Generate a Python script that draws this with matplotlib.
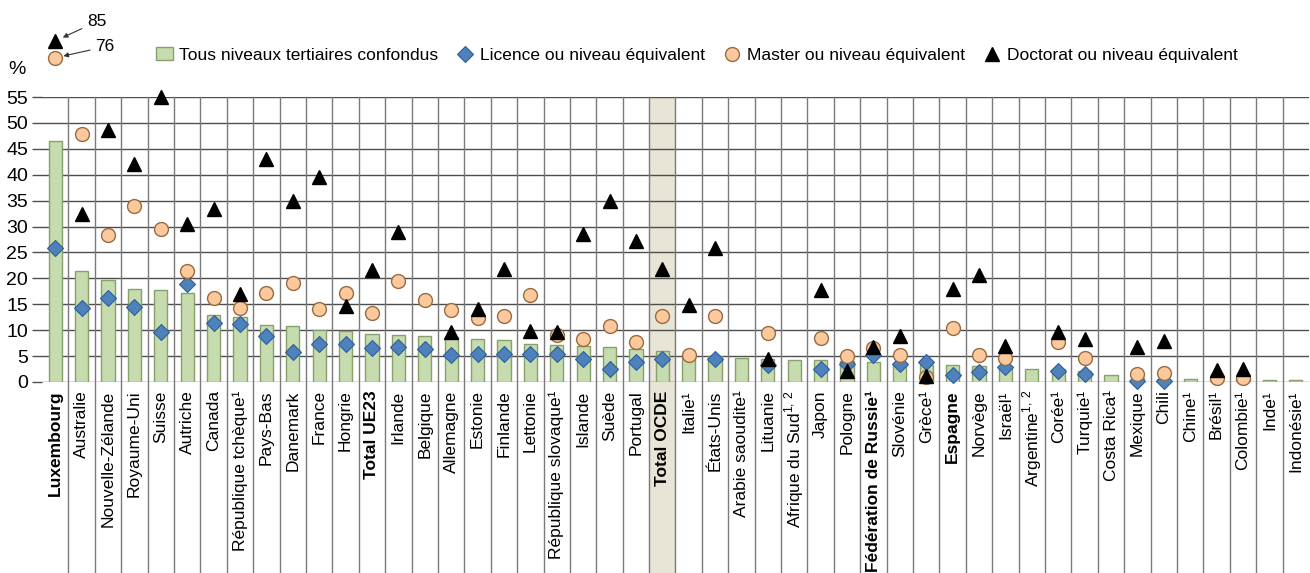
import numpy as np
import matplotlib.pyplot as plt
from matplotlib.patches import Rectangle
from matplotlib.transforms import blended_transform_factory

plt.rcParams['font.family'] = ['Liberation Sans', 'DejaVu Sans']
plt.rcParams['mathtext.fontset'] = 'custom'
plt.rcParams['mathtext.rm'] = 'Liberation Sans'

nan = np.nan

# Pays, triés selon la part tous niveaux tertiaires confondus
pays = [
    "Luxembourg", "Australie", "Nouvelle-Zélande", "Royaume-Uni", "Suisse",
    "Autriche", "Canada", "République tchèque¹", "Pays-Bas", "Danemark",
    "France", "Hongrie", "Total UE23", "Irlande", "Belgique", "Allemagne",
    "Estonie", "Finlande", "Lettonie", "République slovaque¹", "Islande",
    "Suède", "Portugal", "Total OCDE", "Italie¹", "États-Unis",
    "Arabie saoudite¹", "Lituanie", r"Afrique du Sud$^{\mathregular{1,\,2}}$",
    "Japon", "Pologne", "Fédération de Russie¹", "Slovénie", "Grèce¹",
    "Espagne", "Norvège", "Israël¹", r"Argentine$^{\mathregular{1,\,2}}$",
    "Corée¹", "Turquie¹", "Costa Rica¹", "Mexique", "Chili", "Chine¹",
    "Brésil¹", "Colombie¹", "Inde¹", "Indonésie¹",
]
pays_en_gras = ["Luxembourg", "Total UE23", "Total OCDE",
                "Fédération de Russie¹", "Espagne"]
pays_total = "Total OCDE"

tous_niveaux = [
    46.5, 21.5, 19.7, 18.0, 17.8, 17.2, 12.9, 12.6, 11.0, 10.9,
    10.1, 9.9, 9.2, 9.1, 8.9, 8.7, 8.3, 8.2, 7.4, 7.1,
    6.9, 6.8, 6.3, 6.0, 5.2, 5.0, 4.7, 4.5, 4.3, 4.2,
    4.0, 3.9, 3.6, 3.3, 3.2, 3.1, 3.0, 2.6, 2.5, 2.2,
    1.4, 0.8, 0.6, 0.5, 0.5, 0.5, 0.4, 0.3,
]
licence = [
    25.8, 14.3, 16.3, 14.4, 9.6, 18.9, 11.3, 11.1, 8.8, 5.8,
    7.4, 7.4, 6.6, 6.7, 6.3, 5.2, 5.5, 5.5, 5.5, 5.5,
    4.5, 2.5, 3.9, 4.5, nan, 4.5, nan, 3.3, nan, 2.6,
    3.5, 5.2, 3.4, 3.9, 1.3, 1.9, 2.8, nan, 2.1, 1.6,
    nan, 0.2, 0.2, nan, nan, nan, nan, nan,
]
master = [
    76, 47.8, 28.4, 34.0, 29.5, 21.5, 16.2, 14.2, 17.2, 19.1,
    14.1, 17.1, 13.4, 19.5, 15.8, 13.9, 12.4, 12.8, 16.8, 9.0,
    8.3, 10.9, 7.7, 12.7, 5.3, 12.8, nan, 9.4, nan, 8.4,
    5.0, 6.6, 5.2, 0.9, 10.4, 5.2, 4.6, nan, 7.7, 4.7,
    nan, 1.5, 1.8, nan, 0.8, 0.7, nan, nan,
]
doctorat = [
    85, 32.5, 48.7, 42.0, 55.0, 30.4, 33.3, 16.9, 43.0, 35.0,
    39.5, 14.7, 21.7, 28.9, nan, 9.6, 14.1, 21.9, 9.8, 9.7,
    28.6, 35.0, 27.2, 21.8, 14.8, 25.9, nan, 4.4, nan, 17.7,
    2.2, 6.8, 8.8, 1.2, 17.9, 20.6, 6.9, nan, 9.7, 8.3,
    nan, 6.7, 7.9, nan, 2.4, 2.6, nan, nan,
]

PLAFOND = 55
ECRASEMENT = 0.36  # échelle réduite au-dessus du plafond


def hors_echelle(valeurs):
    """Comprime les valeurs qui dépassent le haut de l'axe."""
    v = np.asarray(valeurs, dtype=float)
    return np.where(v > PLAFOND, PLAFOND + (v - PLAFOND) * ECRASEMENT, v)


fig = plt.figure(figsize=(13.1, 5.73), dpi=100)
ax = fig.add_axes([42 / 1310, 1 - 382 / 573, 1267 / 1310, 285 / 573])

x = np.arange(len(pays))
ax.set_xlim(-0.5, len(pays) - 0.5)
ax.set_ylim(0, PLAFOND)
for s in ax.spines.values():
    s.set_visible(False)

trans = blended_transform_factory(ax.transData, ax.transAxes)
bas = -0.67

# colonne grisée du total OCDE, jusqu'en bas des étiquettes
i_total = pays.index(pays_total)
ax.add_patch(Rectangle((i_total - 0.5, bas), 1, 1 - bas, transform=trans,
                       facecolor='#e8e4d6', edgecolor='none', zorder=0,
                       clip_on=False))

# séparateurs verticaux entre pays
for b in x[:-1] + 0.5:
    ax.plot([b, b], [bas, 1], transform=trans, color='#7a7a7a', lw=1.0,
            zorder=1, clip_on=False)

ax.set_yticks(range(0, PLAFOND + 1, 5))
ax.yaxis.grid(True, color='#4e4e4e', lw=1.0, zorder=1)
ax.set_axisbelow(True)
ax.tick_params(axis='y', length=7, color='#4e4e4e', width=1.0, pad=3,
               labelsize=14)

barres = ax.bar(x, tous_niveaux, width=0.5, color='#c6dbae',
                edgecolor='#87a06c', lw=1.0, zorder=2)
l_lic, = ax.plot(x, licence, 'D', ls='none', ms=8, mfc='#4f81bd',
                 mec='#2f5f95', mew=0.8, zorder=3, clip_on=False)
l_mas, = ax.plot(x, hors_echelle(master), 'o', ls='none', ms=10,
                 mfc='#fbc99c', mec='#9a6a40', mew=1.0, zorder=4,
                 clip_on=False)
l_doc, = ax.plot(x, hors_echelle(doctorat), '^', ls='none', ms=10,
                 color='black', zorder=5, clip_on=False)

# valeurs hors échelle indiquées par une flèche
decalages = {'doctorat': (30, 14), 'master': (36, 8)}
for nom, serie in (('doctorat', doctorat), ('master', master)):
    for i, v in enumerate(serie):
        if v > PLAFOND:
            ax.annotate(f"{v:.0f}", xy=(i, hors_echelle(v)),
                        xytext=decalages[nom], textcoords='offset points',
                        ha='center', va='center', fontsize=12.5,
                        annotation_clip=False,
                        arrowprops=dict(arrowstyle='-|>', color='#333333',
                                        lw=0.8, mutation_scale=7,
                                        shrinkA=2, shrinkB=6))

ax.set_xticks(x)
ax.set_xticklabels(pays, rotation=90, fontsize=12.5)
ax.tick_params(axis='x', length=0, pad=6)
for lab, nom in zip(ax.get_xticklabels(), pays):
    if nom in pays_en_gras:
        lab.set_fontweight('bold')

fig.text(17 / 1310, 1 - 70 / 573, '%', ha='center', va='center', fontsize=14)

fig.legend([barres, l_lic, l_mas, l_doc],
           ["Tous niveaux tertiaires confondus", "Licence ou niveau équivalent",
            "Master ou niveau équivalent", "Doctorat ou niveau équivalent"],
           loc='center left', bbox_to_anchor=(156 / 1310, 1 - 55 / 573),
           ncol=4, frameon=False, fontsize=12.5, handlelength=1.0,
           handletextpad=0.35, columnspacing=1.05, borderpad=0,
           borderaxespad=0)

fig.savefig('out.png', dpi=100)
